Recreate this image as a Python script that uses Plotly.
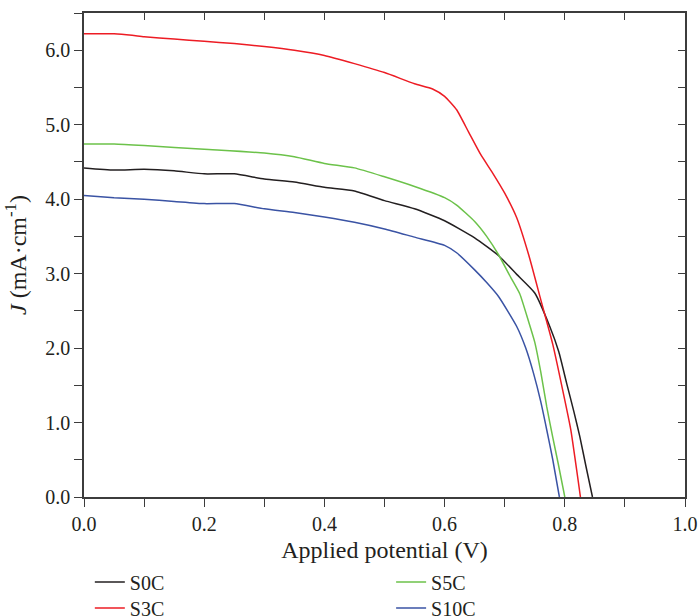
import plotly.graph_objects as go

# ---- data ----
v_s0c = [0.0, 0.05, 0.1, 0.15, 0.2, 0.25, 0.3, 0.35, 0.4, 0.45, 0.5, 0.55, 0.6, 0.65, 0.69, 0.72, 0.75, 0.775, 0.79, 0.803, 0.815, 0.825, 0.835, 0.846]
j_s0c = [4.42, 4.39, 4.40, 4.38, 4.34, 4.34, 4.27, 4.23, 4.16, 4.11, 3.98, 3.87, 3.71, 3.48, 3.24, 2.99, 2.74, 2.29, 1.95, 1.53, 1.15, 0.81, 0.42, 0.0]

v_s3c = [0.0, 0.05, 0.08, 0.1, 0.15, 0.2, 0.25, 0.3, 0.35, 0.4, 0.45, 0.5, 0.55, 0.58, 0.6, 0.62, 0.64, 0.66, 0.68, 0.7, 0.72, 0.74, 0.76, 0.78, 0.8, 0.81, 0.826]
j_s3c = [6.22, 6.22, 6.20, 6.18, 6.15, 6.12, 6.09, 6.05, 6.00, 5.93, 5.82, 5.70, 5.55, 5.48, 5.38, 5.20, 4.90, 4.60, 4.35, 4.08, 3.75, 3.25, 2.65, 2.05, 1.30, 0.90, 0.0]

v_s5c = [0.0, 0.05, 0.1, 0.2, 0.3, 0.35, 0.4, 0.45, 0.5, 0.55, 0.6, 0.62, 0.65, 0.67, 0.69, 0.71, 0.725, 0.74, 0.75, 0.76, 0.77, 0.78, 0.789, 0.8]
j_s5c = [4.74, 4.74, 4.72, 4.67, 4.62, 4.57, 4.48, 4.42, 4.30, 4.17, 4.02, 3.92, 3.70, 3.50, 3.25, 2.95, 2.73, 2.35, 2.08, 1.68, 1.21, 0.80, 0.45, 0.0]

v_s10c = [0.0, 0.05, 0.1, 0.15, 0.2, 0.25, 0.3, 0.35, 0.4, 0.45, 0.5, 0.55, 0.6, 0.62, 0.65, 0.67, 0.69, 0.72, 0.735, 0.748, 0.76, 0.77, 0.78, 0.791]
j_s10c = [4.05, 4.02, 4.00, 3.97, 3.94, 3.94, 3.87, 3.82, 3.76, 3.69, 3.60, 3.49, 3.38, 3.28, 3.05, 2.88, 2.69, 2.29, 2.00, 1.66, 1.28, 0.90, 0.50, 0.0]

series_names = ["S0C", "S3C", "S5C", "S10C"]
series_colors = ["#231f20", "#ed1c24", "#6cc24a", "#3a53a4"]
series_v = [v_s0c, v_s3c, v_s5c, v_s10c]
series_j = [j_s0c, j_s3c, j_s5c, j_s10c]
series_legend = ["legend", "legend2", "legend3", "legend4"]

FONT = "Liberation Serif"
TXT = "#231f20"

fig = go.Figure()
for name, col, vv, jj, lg in zip(series_names, series_colors, series_v, series_j, series_legend):
    fig.add_trace(go.Scatter(x=vv, y=jj, mode="lines", name=name,
                             line=dict(color=col, width=1.5, shape="spline", smoothing=0.5),
                             legend=lg))

# dummy trace to activate the mirrored (top/right) axes with inside ticks
fig.add_trace(go.Scatter(x=[None], y=[None], xaxis="x2", yaxis="y2",
                         showlegend=False, hoverinfo="skip"))

axis_col = "#3c3c3c"
leg_common = dict(xanchor="left", yanchor="top", bgcolor="rgba(0,0,0,0)",
                  font=dict(size=20), tracegroupgap=0, itemwidth=30)
fig.update_layout(
    width=698, height=616,
    margin=dict(l=84, r=13, t=13, b=119, autoexpand=False),
    paper_bgcolor="white", plot_bgcolor="white",
    font=dict(family=FONT, size=20, color=TXT),
    xaxis=dict(range=[0, 1], dtick=0.2, tickformat=".1f", ticks="outside", ticklen=8,
               tickwidth=1.3, tickcolor=axis_col,
               showline=True, linecolor=axis_col, linewidth=1.5, showgrid=False, zeroline=False,
               minor=dict(dtick=0.1, ticks="outside", ticklen=8, tickwidth=1.3, tickcolor=axis_col),
               title=dict(text="Applied potential (V)", standoff=7)),
    yaxis=dict(range=[0, 6.5], dtick=1, tickformat=".1f", ticks="outside", ticklen=8,
               tickwidth=1.3, tickcolor=axis_col,
               showline=True, linecolor=axis_col, linewidth=1.5, showgrid=False, zeroline=False,
               minor=dict(dtick=0.5, ticks="outside", ticklen=8, tickwidth=1.3, tickcolor=axis_col),
               title=dict(text="<i>J</i> (mA·cm<sup>-1</sup>)", standoff=12)),
    xaxis2=dict(overlaying="x", side="top", range=[0, 1], dtick=0.1, ticks="inside", ticklen=7,
                tickwidth=1.3, tickcolor=axis_col, showticklabels=False,
                showline=True, linecolor=axis_col, linewidth=1.5, showgrid=False, zeroline=False),
    yaxis2=dict(overlaying="y", side="right", range=[0, 6.5], dtick=0.5, ticks="inside", ticklen=7,
                tickwidth=1.3, tickcolor=axis_col, showticklabels=False,
                showline=True, linecolor=axis_col, linewidth=1.5, showgrid=False, zeroline=False),
    legend=dict(x=0.0097, y=-0.1351, **leg_common),
    legend2=dict(x=0.0097, y=-0.1889, **leg_common),
    legend3=dict(x=0.511, y=-0.1351, **leg_common),
    legend4=dict(x=0.511, y=-0.1889, **leg_common),
    showlegend=True,
)

fig.write_html("out.html", config={"displayModeBar": False},
               post_script="document.body.style.margin='0';")
